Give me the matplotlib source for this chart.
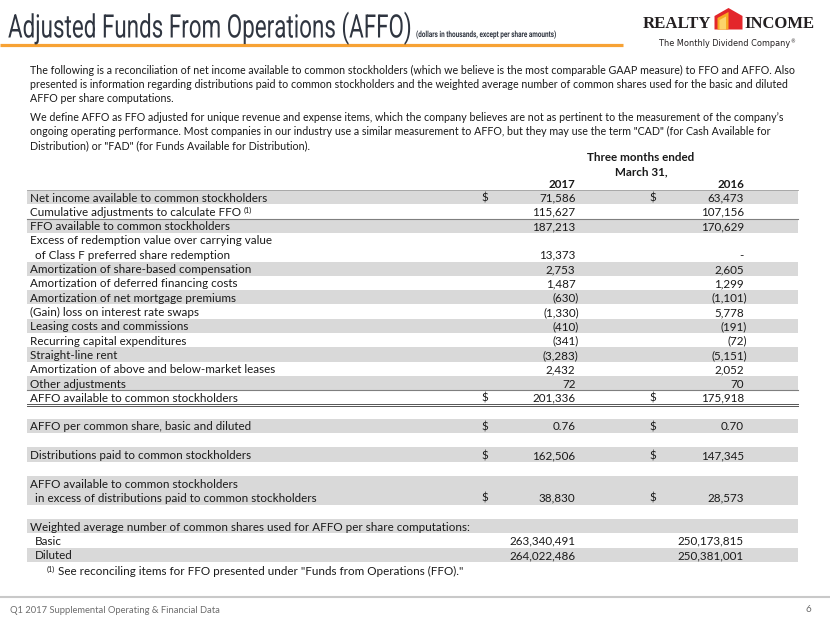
import matplotlib
matplotlib.use("Agg")
import matplotlib.pyplot as plt
from matplotlib.patches import Rectangle, Polygon
from matplotlib.patheffects import AbstractPathEffect
from matplotlib.transforms import Affine2D
from matplotlib.textpath import TextPath
from matplotlib import font_manager as fm

# ---------------- data ----------------
title = "Adjusted Funds From Operations (AFFO)"
subtitle = "(dollars in thousands, except per share amounts)"
para_lines = [
    "The following is a reconciliation of net income available to common stockholders (which we believe is the most comparable GAAP measure) to FFO and AFFO. Also",
    "presented is information regarding distributions paid to common stockholders and the weighted average number of common shares used for the basic and diluted",
    "AFFO per share computations.",
    "",
    "We define AFFO as FFO adjusted for unique revenue and expense items, which the company believes are not as pertinent to the measurement of the company\u2019s",
    "ongoing operating performance. Most companies in our industry use a similar measurement to AFFO, but they may use the term \"CAD\" (for Cash Available for",
    "Distribution) or \"FAD\" (for Funds Available for Distribution).",
]
header_lines = ["Three months ended", "March 31,"]
years = ["2017", "2016"]

recon_labels = [
    "Net income available to common stockholders",
    "Cumulative adjustments to calculate FFO",
    "FFO available to common stockholders",
    "Excess of redemption value over carrying value\nof Class F preferred share redemption",
    "Amortization of share-based compensation",
    "Amortization of deferred financing costs",
    "Amortization of net mortgage premiums",
    "(Gain) loss on interest rate swaps",
    "Leasing costs and commissions",
    "Recurring capital expenditures",
    "Straight-line rent",
    "Amortization of above and below-market leases",
    "Other adjustments",
    "AFFO available to common stockholders",
]
recon_2017 = [71586, 115627, 187213, 13373, 2753, 1487, -630, -1330, -410, -341, -3283, 2432, 72, 201336]
recon_2016 = [63473, 107156, 170629, None, 2605, 1299, -1101, 5778, -191, -72, -5151, 2052, 70, 175918]
recon_dollar = [True] + [False] * 12 + [True]

per_share_label = "AFFO per common share, basic and diluted"
per_share = [0.76, 0.70]
distrib_label = "Distributions paid to common stockholders"
distrib = [162506, 147345]
excess_label = "AFFO available to common stockholders\nin excess of distributions paid to common stockholders"
excess = [38830, 28573]
shares_title = "Weighted average number of common shares used for AFFO per share computations:"
share_labels = ["Basic", "Diluted"]
shares_2017 = [263340491, 264022486]
shares_2016 = [250173815, 250381001]

footnote = "See reconciling items for FFO presented under \"Funds from Operations (FFO).\""
footer = "Q1 2017 Supplemental Operating & Financial Data"
page_no = "6"

# ---------------- setup ----------------
W, H = 830, 623
fig = plt.figure(figsize=(W / 100, H / 100), dpi=100)
ax = fig.add_axes([0, 0, 1, 1])
ax.set_xlim(0, W)
ax.set_ylim(H, 0)
ax.axis("off")
R = fig.canvas.get_renderer()


def pick(cands):
    for c in cands:
        try:
            fm.findfont(fm.FontProperties(family=c), fallback_to_default=False)
            return c
        except Exception:
            pass
    return "DejaVu Sans"


BODY = pick(["Lato", "Open Sans", "Noto Sans", "DejaVu Sans"])
TITLEF = pick(["Liberation Sans Narrow", "Roboto", "DejaVu Sans"])
SERIF = pick(["Liberation Serif", "DejaVu Serif"])
TXT = "#1a1a1a"


class Stretch(AbstractPathEffect):
    def __init__(self, sx, sy, x0, y0):
        super().__init__()
        self.a = Affine2D().translate(-x0, -y0).scale(sx, sy).translate(x0, y0)

    def draw_path(self, renderer, gc, tpath, affine, rgbFace=None):
        renderer.draw_path(gc, tpath, affine + self.a, rgbFace)


def place(x, y, s, fs=9, family=None, ha="left", weight="normal", color=TXT,
          width=None, cap=None):
    t = ax.text(x, y, s, fontsize=fs, family=family or BODY, ha=ha, va="baseline",
                weight=weight, color=color)
    if width:
        w = t.get_window_extent(R).width
        fs = fs * width / w
        t.set_fontsize(fs)
    if cap:
        fp = t.get_fontproperties()
        capr = TextPath((0, 0), "H", size=1, prop=fp).get_extents().height
        sy = cap / (capr * fs * 100 / 72)
        x0, y0 = ax.transData.transform((x, y))
        t.set_path_effects([Stretch(1, sy, x0, y0)])
    return t


def right_x(t):
    b = t.get_window_extent(R)
    return ax.transData.inverted().transform((b.x1, b.y0))[0]


def fit_size(s, width, weight="normal"):
    p = ax.text(0, 0, s, fontsize=9, family=BODY, weight=weight)
    fs = 9 * width / p.get_window_extent(R).width
    p.remove()
    return fs


def fmt_int(v):
    if v is None:
        return "-"
    return f"({abs(v):,})" if v < 0 else f"{v:,}"


# ---------------- title / logo ----------------
place(8, 37.5, title, fs=20, family=TITLEF, color="#2f3540", width=403, cap=23)
place(416, 37, subtitle, fs=5, family=TITLEF, weight="bold", color="#2f3540", width=142, cap=6)
ax.plot([0, 623], [44.5, 44.5], color="#f7a234", lw=2.3, solid_capstyle="butt")

place(711, 28.3, "REALTY", fs=11, family=SERIF, weight="bold", color="#231f20", ha="right", width=68)
place(744, 28.3, "INCOME", fs=11, family=SERIF, weight="bold", color="#231f20", width=70)
ax.add_patch(Polygon([(714.5, 16), (728.5, 8.0), (742.5, 16), (742.5, 29.5), (714.5, 29.5)],
                     closed=True, fc="#e3262b", ec="none"))
ax.add_patch(Polygon([(717.5, 18), (728.5, 12.0), (728.5, 29.5), (717.5, 29.5)],
                     closed=True, fc="#f7a823", ec="none"))
ax.add_patch(Polygon([(719.5, 20), (726, 16.5), (726, 29.5), (719.5, 29.5)],
                     closed=True, fc="#fcd36b", ec="none"))
tg = place(659, 46.5, "The Monthly Dividend Company", fs=6, family="DejaVu Sans",
           color="#231f20", width=132)
place(right_x(tg) + 0.5, 43, "\u00ae", fs=3.5, family="DejaVu Sans", color="#231f20")

# ---------------- font sizes ----------------
FS = fit_size(recon_labels[0], 237)
FSP = fit_size(para_lines[0], 768)

# paragraphs
yb = 74
for ln in para_lines:
    if ln == "":
        yb += 5
        continue
    place(30, yb, ln, fs=FSP)
    yb += 14

# ---------------- table ----------------
TOP, RH = 190.0, 14.3
XL, XR = 27, 798
X_D = [485, 653]
X_V = [575.5, 744]
GRAY = "#d9d9d9"
BOFF = 11.6  # baseline offset from row top
PAREN = 3.2  # hanging width of ")"

# header
place(641, 161, header_lines[0], fs=FS, ha="center", weight="bold")
place(641, 175, header_lines[1], fs=FS, ha="center", weight="bold")
for j in range(2):
    place(X_V[j], 188, years[j], fs=FS, ha="right", weight="bold")


def shade(slot, n=1):
    ax.add_patch(Rectangle((XL, TOP + slot * RH), XR - XL, n * RH, fc=GRAY, ec="none", zorder=0))


def value(slot, j, txt, neg=False, dollar=False):
    yb = TOP + slot * RH + BOFF
    place(X_V[j] + (PAREN if neg else 0), yb, txt, fs=FS, ha="right")
    if dollar:
        place(X_D[j], yb, "$", fs=FS, ha="center")


def label(slot, txt, indent=0):
    return place(30 + indent, TOP + slot * RH + BOFF, txt, fs=FS)


slot = 0
for i, lab in enumerate(recon_labels):
    lines = lab.split("\n")
    n = len(lines)
    if i % 2 == 0:
        shade(slot, n)
    for k, ln in enumerate(lines):
        t = label(slot + k, ln, indent=5 if k > 0 else 0)
        if i == 1:
            place(right_x(t) + 2.5, TOP + slot * RH + BOFF - 3.2, "(1)", fs=FS * 0.62)
    last = slot + n - 1
    for j, vals in enumerate([recon_2017, recon_2016]):
        v = vals[i]
        value(last, j, fmt_int(v), neg=(v is not None and v < 0), dollar=recon_dollar[i])
    slot += n

# rules in reconciliation block
LC = "#7f7f7f"
ax.plot([XL, XR], [TOP, TOP], color="#a0a0a0", lw=0.6)
ax.plot([XL, XR], [TOP + 2 * RH, TOP + 2 * RH], color=LC, lw=0.8)
ax.plot([XL, XR], [TOP + 14 * RH, TOP + 14 * RH], color=LC, lw=0.8)
ax.plot([XL, XR], [TOP + 15 * RH - 0.6, TOP + 15 * RH - 0.6], color="#555555", lw=0.7)
ax.plot([XL, XR], [TOP + 15 * RH + 1.2, TOP + 15 * RH + 1.2], color="#555555", lw=0.7)

# lower block
s = 16
shade(s)
label(s, per_share_label)
for j in range(2):
    value(s, j, f"{per_share[j]:.2f}", dollar=True)

s = 18
shade(s)
label(s, distrib_label)
for j in range(2):
    value(s, j, fmt_int(distrib[j]), dollar=True)

s = 20
shade(s, 2)
ex_lines = excess_label.split("\n")
label(s, ex_lines[0])
label(s + 1, ex_lines[1], indent=5)
for j in range(2):
    value(s + 1, j, fmt_int(excess[j]), dollar=True)

s = 23
shade(s)
label(s, shares_title)
for k, nm in enumerate(share_labels):
    if k == 1:
        shade(s + 1 + k)
    label(s + 1 + k, nm, indent=5)
    value(s + 1 + k, 0, fmt_int(shares_2017[k]))
    value(s + 1 + k, 1, fmt_int(shares_2016[k]))

# footnote
fy = 575
place(47, fy - 3, "(1)", fs=FS * 0.62)
place(58, fy, footnote, fs=FS)

# footer
ax.plot([0, W], [597, 597], color="#c9c9c9", lw=1.5)
place(10, 613, footer, fs=7, color="#6d6d6d", width=211)
place(808, 612, page_no, fs=FS * 0.85, color="#6d6d6d", ha="center")

fig.savefig("out.png", dpi=100)
